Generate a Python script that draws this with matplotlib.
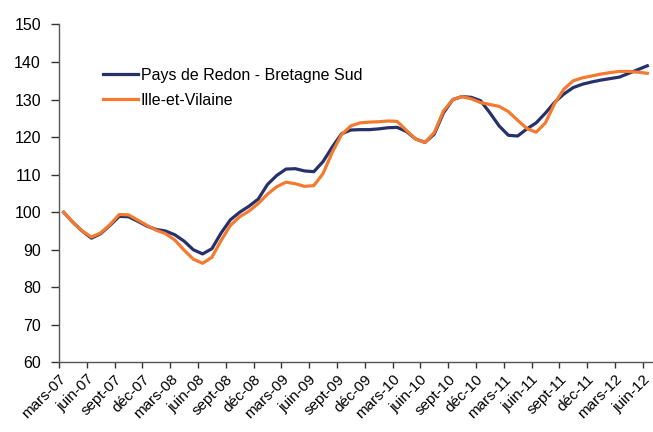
import matplotlib.pyplot as plt

plt.rcParams['font.family'] = ['Liberation Sans', 'DejaVu Sans']

# monthly index, mars-07 .. juin-12
redon = [100.0, 97.3, 95.0, 93.1, 94.3, 96.5, 98.9, 98.8, 97.6, 96.3,
         95.4, 95.0, 94.0, 92.3, 90.0, 88.9, 90.3, 94.5, 98.0, 100.0,
         101.6, 103.5, 107.4, 109.8, 111.5, 111.6, 111.0, 110.8, 113.5, 117.4,
         120.9, 121.9, 122.0, 122.0, 122.2, 122.5, 122.6, 121.5, 119.5, 118.6,
         120.8, 126.5, 130.0, 130.8, 130.6, 129.7, 126.5, 123.0, 120.5, 120.3,
         122.2, 123.8, 126.4, 129.3, 131.5, 133.2, 134.1, 134.7, 135.2, 135.6,
         136.0, 137.0, 138.0, 139.0]
ille = [100.0, 97.3, 95.0, 93.4, 94.5, 96.7, 99.4, 99.3, 97.9, 96.5,
        95.2, 94.3, 92.6, 89.9, 87.5, 86.4, 88.0, 92.5, 96.5, 98.8,
        100.3, 102.3, 104.8, 106.8, 108.0, 107.6, 106.9, 107.1, 110.3, 116.0,
        120.7, 123.0, 123.8, 124.0, 124.1, 124.3, 124.2, 121.8, 119.5, 118.6,
        121.2, 127.0, 130.0, 130.8, 130.2, 129.2, 128.7, 128.2, 126.8, 124.5,
        122.3, 121.3, 123.8, 129.0, 132.8, 135.0, 135.8, 136.3, 136.8, 137.2,
        137.5, 137.5, 137.3, 137.0]
tick_labels = ['mars-07', 'juin-07', 'sept-07', 'déc-07',
               'mars-08', 'juin-08', 'sept-08', 'déc-08',
               'mars-09', 'juin-09', 'sept-09', 'déc-09',
               'mars-10', 'juin-10', 'sept-10', 'déc-10',
               'mars-11', 'juin-11', 'sept-11', 'déc-11',
               'mars-12', 'juin-12']

x = list(range(len(redon)))

fig = plt.figure(figsize=(6.53, 4.32), dpi=100)
ax = fig.add_axes([0.0904, 0.161, 0.908, 0.7823])

ax.plot(x, redon, color='#26316b', lw=2.3, solid_joinstyle='round',
        label='Pays de Redon - Bretagne Sud')
ax.plot(x, ille, color='#f37a2e', lw=2.3, solid_joinstyle='round',
        label='Ille-et-Vilaine')

ax.set_xlim(-0.5, len(x) - 0.5)
ax.set_ylim(60, 150)
ax.set_yticks(range(60, 151, 10))

# tick marks between categories, one label per quarter
ax.set_xticks([i - 0.5 for i in range(0, len(x), 3)])
ax.set_xticklabels(tick_labels, rotation=45, ha='right', va='top',
                   rotation_mode='anchor')
ax.tick_params(axis='x', length=4, width=1, color='#333333', pad=3, labelsize=11)
ax.tick_params(axis='y', length=6, width=1, color='#333333', pad=7, labelsize=11.5)

for s in ['top', 'right']:
    ax.spines[s].set_visible(False)
for s in ['left', 'bottom']:
    ax.spines[s].set_color('#555555')
    ax.spines[s].set_linewidth(1)

ax.legend(loc='upper left', bbox_to_anchor=(0.05, 0.915), frameon=False,
          fontsize=11.5, handlelength=2.2, handletextpad=0.15, labelspacing=0.65)

fig.savefig('out.png', dpi=100)
